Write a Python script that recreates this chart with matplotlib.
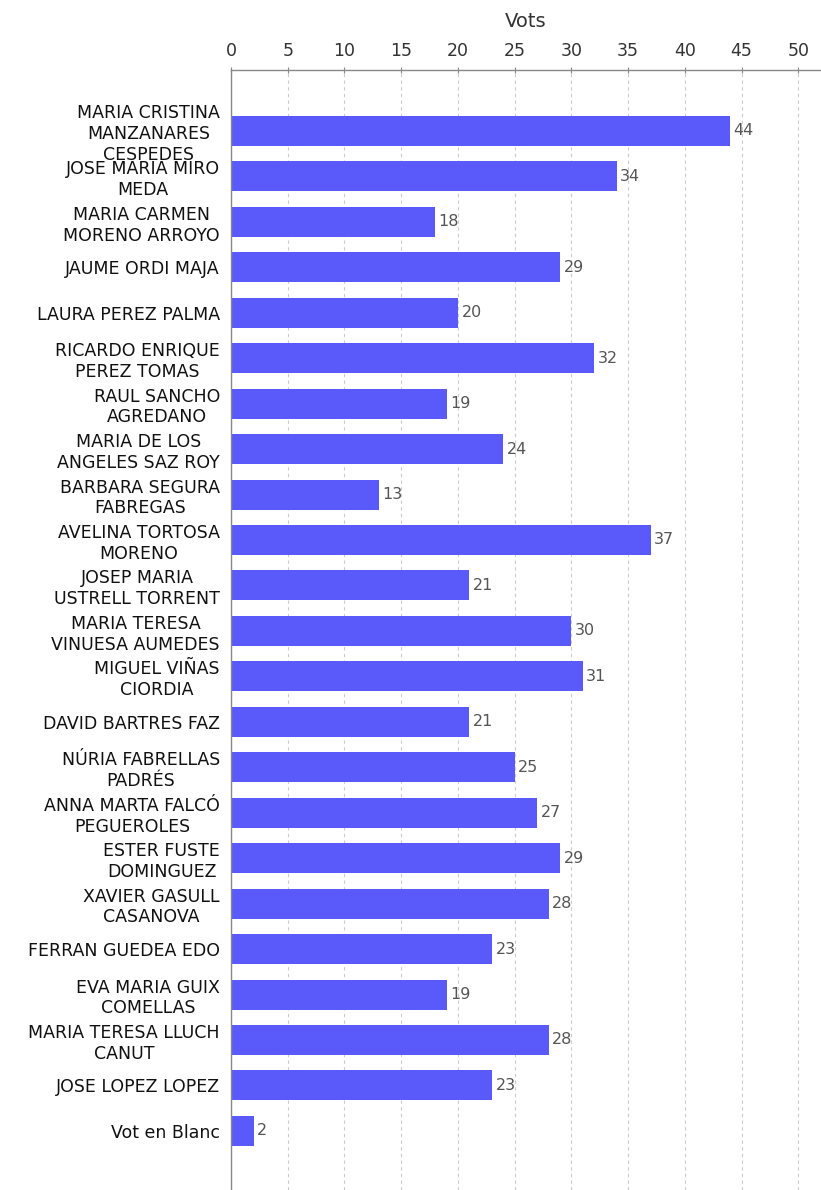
import matplotlib
matplotlib.use("Agg")
import matplotlib.pyplot as plt

categories = [
    "MARIA CRISTINA\nMANZANARES\nCESPEDES",
    "JOSE MARIA MIRO\nMEDA",
    "MARIA CARMEN\nMORENO ARROYO",
    "JAUME ORDI MAJA",
    "LAURA PEREZ PALMA",
    "RICARDO ENRIQUE\nPEREZ TOMAS",
    "RAUL SANCHO\nAGREDANO",
    "MARIA DE LOS\nANGELES SAZ ROY",
    "BARBARA SEGURA\nFABREGAS",
    "AVELINA TORTOSA\nMORENO",
    "JOSEP MARIA\nUSTRELL TORRENT",
    "MARIA TERESA\nVINUESA AUMEDES",
    "MIGUEL VIÑAS\nCIORDIA",
    "DAVID BARTRES FAZ",
    "NÚRIA FABRELLAS\nPADRÉS",
    "ANNA MARTA FALCÓ\nPEGUEROLES",
    "ESTER FUSTE\nDOMINGUEZ",
    "XAVIER GASULL\nCASANOVA",
    "FERRAN GUEDEA EDO",
    "EVA MARIA GUIX\nCOMELLAS",
    "MARIA TERESA LLUCH\nCANUT",
    "JOSE LOPEZ LOPEZ",
    "Vot en Blanc",
]
votes = [44, 34, 18, 29, 20, 32, 19, 24, 13, 37, 21, 30, 31, 21, 25, 27, 29, 28, 23, 19, 28, 23, 2]
xticks = list(range(0, 55, 5))

plt.rcParams['font.family'] = ['DejaVu Sans']
fig = plt.figure(figsize=(8.21, 11.90), dpi=100)
ax = fig.add_axes([0.2814, 0.0, 0.7186, 0.9412])

y = list(range(len(categories)))
ax.barh(y, votes, height=0.66, color='#5a5afa', zorder=2)
for yi, v in zip(y, votes):
    ax.annotate(str(v), (v, yi), xytext=(2.5, 0), textcoords='offset points',
                va='center', ha='left', fontsize=11.5, color='#555555')

ax.set_ylim(len(categories) - 1 + 1.3, -1.34)
ax.set_xlim(0, 52.0)
ax.xaxis.tick_top()
ax.xaxis.set_label_position('top')
ax.set_xticks(xticks)
ax.set_xticklabels([str(t) for t in xticks], fontsize=12.5, color='#333333')
ax.set_xlabel('Vots', fontsize=14, color='#333333', labelpad=11)
ax.tick_params(axis='x', direction='inout', length=4, color='#888888', pad=5)
ax.set_yticks(y)
ax.set_yticklabels(categories, fontsize=12.5, color='#111111', multialignment='center',
                   linespacing=1.2)
ax.tick_params(axis='y', length=0, pad=8)
ax.grid(axis='x', linestyle=(0, (3, 3)), color='#cccccc', linewidth=0.8, zorder=0)
for s in ['right', 'bottom']:
    ax.spines[s].set_visible(False)
for s in ['top', 'left']:
    ax.spines[s].set_color('#888888')
    ax.spines[s].set_linewidth(1.0)

fig.savefig('out.png', dpi=100)
